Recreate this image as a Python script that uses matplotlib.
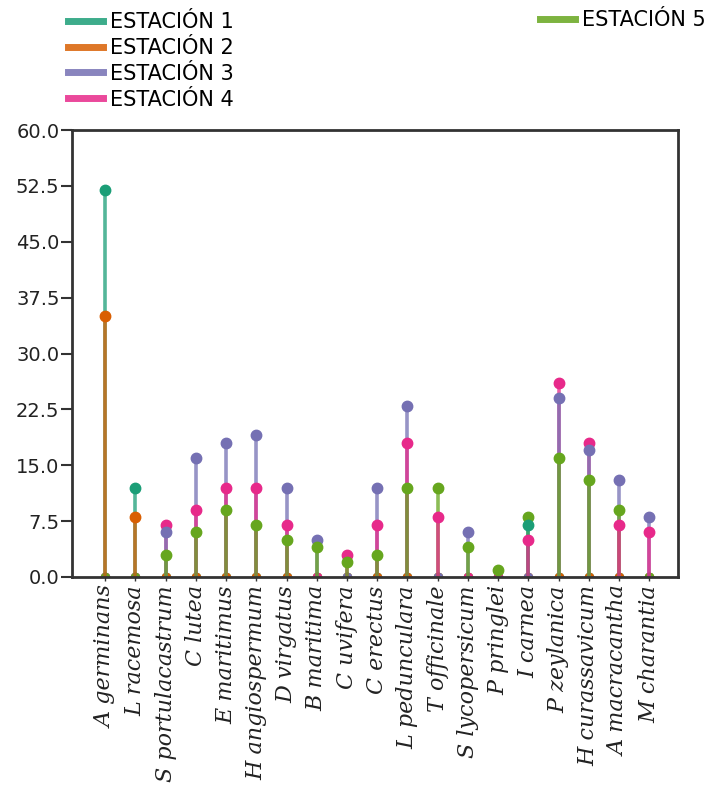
import matplotlib
matplotlib.use("Agg")
import matplotlib.pyplot as plt
from matplotlib.lines import Line2D
import numpy as np

species = ["A germinans", "L racemosa", "S portulacastrum", "C lutea", "E maritimus",
           "H angiospermum", "D virgatus", "B maritima", "C uvifera", "C erectus",
           "L pedunculara", "T officinale", "S lycopersicum", "P pringlei", "I carnea",
           "P zeylanica", "H curassavicum", "A macracantha", "M charantia"]

estacion1 = [52, 12, 0, 0, 0, 0, 0, 0, 0, 0, 0, 0, 0, 0, 7, 0, 0, 0, 0]
estacion2 = [35, 8, 0, 0, 0, 0, 0, 0, 0, 0, 0, 0, 0, 0, 0, 0, 0, 0, 0]
estacion3 = [0, 0, 6, 16, 18, 19, 12, 5, 0, 12, 23, 0, 6, 0, 0, 24, 17, 13, 8]
estacion4 = [0, 0, 7, 9, 12, 12, 7, 0, 3, 7, 18, 8, 0, 0, 5, 26, 18, 7, 6]
estacion5 = [0, 0, 3, 6, 9, 7, 5, 4, 2, 3, 12, 12, 4, 1, 8, 16, 13, 9, 0]

series_names = ["ESTACIÓN 1", "ESTACIÓN 2", "ESTACIÓN 3", "ESTACIÓN 4", "ESTACIÓN 5"]
series_vals = [estacion1, estacion2, estacion3, estacion4, estacion5]
colors = ["#1b9e77", "#d95f02", "#7570b3", "#e7298a", "#66a61e"]
yticks = [0.0, 7.5, 15.0, 22.5, 30.0, 37.5, 45.0, 52.5, 60.0]

fig = plt.figure(figsize=(7.11, 7.96), dpi=100)
W, H = 711, 796
ax = fig.add_axes([72 / W, 1 - 577 / H, (678 - 72) / W, (577 - 130) / H])

x = np.arange(len(species))
for i in x:
    vals = [(s[i], k) for k, s in enumerate(series_vals)]
    vals.sort(key=lambda t: -t[0])
    for v, k in vals:
        ax.plot([i, i], [0, v], color=colors[k], lw=2.6, alpha=0.75, zorder=2,
                solid_capstyle='butt')
    for v, k in vals:
        ax.plot(i, v, 'o', color=colors[k], ms=7.5 if v > 0 else 6,
                zorder=4 if v > 0 else 1, clip_on=True)

ax.set_xlim(-1.1, 18.95)
ax.set_ylim(0, 60)
ax.set_yticks(yticks)
ax.set_yticklabels([f"{t:.1f}" for t in yticks], fontsize=14, family="DejaVu Sans",
                   color="#222222")
ax.set_xticks(x)
ax.set_xticklabels(species, rotation=90, fontsize=16, family="DejaVu Serif",
                   style="italic", color="#222222")
ax.tick_params(axis='y', length=8, width=1.5, color="#333333", pad=1)
ax.tick_params(axis='x', length=3, width=1, color="#333333", pad=3)
for sp in ax.spines.values():
    sp.set_linewidth(2)
    sp.set_color("#333333")
    sp.set_zorder(5)

h = [Line2D([0], [0], color=c, lw=5, alpha=0.85) for c in colors]
leg_kw = dict(frameon=False, prop={'family': 'DejaVu Sans', 'size': 15},
              handlelength=1.7, handletextpad=0.3, labelspacing=0.28, borderpad=0,
              borderaxespad=0)
fig.legend(h[:4], series_names[:4], loc='upper left',
           bbox_to_anchor=(68 / W, 1 - 12 / H), **leg_kw)
fig.legend(h[4:], series_names[4:], loc='upper left',
           bbox_to_anchor=(540 / W, 1 - 10 / H), **leg_kw)

fig.savefig("out.png", dpi=100)
